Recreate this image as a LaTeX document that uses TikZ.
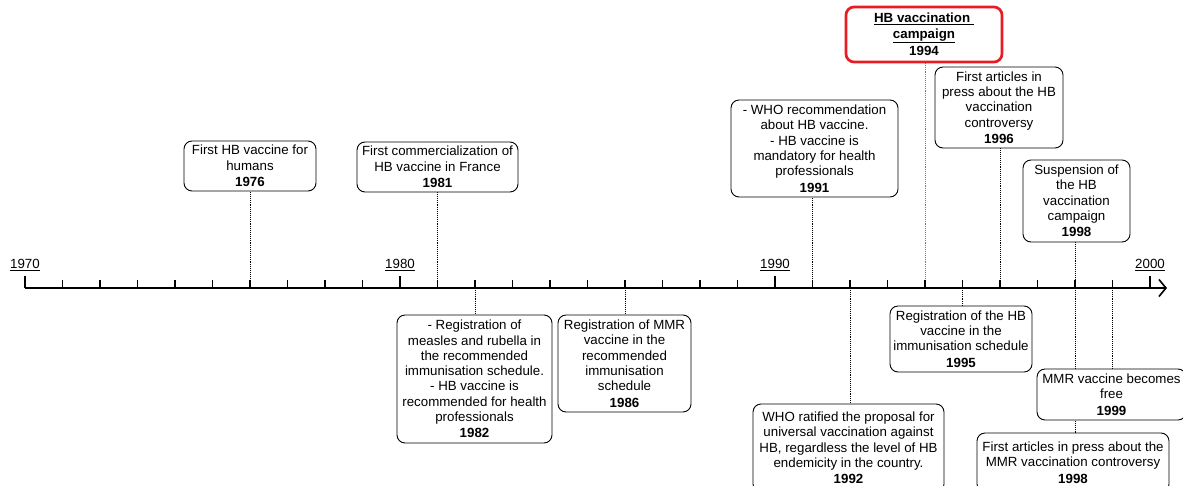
\documentclass[tikz,border=0pt]{standalone}
\usepackage{fontspec}
\setmainfont{Liberation Sans}
\usetikzlibrary{arrows.meta,backgrounds}

\definecolor{campred}{RGB}{232,28,36}
\tikzset{
  event/.style={draw, rounded corners=8pt, fill=white, align=center, inner sep=2pt,
    line width=0.9pt, font=\fontsize{13.3}{15.3}\selectfont},
  keyevent/.style={event, draw=campred, line width=2.7pt},
  eventline/.style={densely dotted, line width=0.9pt},
  keyline/.style={eventline, draw=campred!80},
  yearlabel/.style={inner sep=0pt, font=\fontsize{13.3}{15.3}\selectfont},
  axisline/.style={line width=1.2pt},
}

\begin{document}
\begin{tikzpicture}[x=1pt,y=-1pt]
\useasboundingbox (0,0) rectangle (1183,485);

\foreach \yr in {1970,...,2000}
  \coordinate (t\yr) at ({25+37.5*(\yr-1970)},288);

\draw[axisline, -{Straight Barb[length=7pt,width=17pt,line width=1.6pt]}] (t1970) -- ([xshift=17pt]t2000);
\foreach \yr in {1970,...,2000}
  \draw[axisline] (t\yr) -- ++(0,-8);
\foreach \yr in {1970,1980,1990,2000} {
  \draw[axisline] (t\yr) -- ++(0,-12);
  \node[yearlabel] (l\yr) at ([yshift=23pt]t\yr) {\underline{\yr}};
}

\node[event, minimum width=132pt, minimum height=50pt] (b1976) at (250,166)
  {First HB vaccine for\\humans\\[1pt]\textbf{1976}};
\node[event, minimum width=161pt, minimum height=50pt] (b1981) at (437.5,167)
  {First commercialization of\\HB vaccine in France\\[1pt]\textbf{1981}};
\node[event, minimum width=167pt, minimum height=97pt] (b1991) at (814.5,148.5)
  {- WHO recommendation\\about HB vaccine.\\- HB vaccine is\\mandatory for health\\professionals\\[1pt]\textbf{1991}};
\node[keyevent, minimum width=156pt, minimum height=55pt] (b1994) at (924,34.5)
  {\textbf{\underline{HB vaccination\ }}\\\textbf{\underline{campaign}}\\[2pt]\textbf{1994}};
\node[event, minimum width=128pt, minimum height=81pt] (b1996) at (999,107.5)
  {First articles in\\press about the HB\\vaccination\\controversy\\[1pt]\textbf{1996}};
\node[event, minimum width=107pt, minimum height=82pt] (b1998a) at (1076.5,201)
  {Suspension of\\the HB\\vaccination\\campaign\\[1pt]\textbf{1998}};

\node[event, minimum width=155pt, minimum height=128pt] (b1982) at (474.5,379)
  {- Registration of\\measles and rubella in\\the recommended\\immunisation schedule.\\- HB vaccine is\\recommended for health\\professionals\\[1pt]\textbf{1982}};
\node[event, minimum width=133pt, minimum height=97pt] (b1986) at (624.5,363.5)
  {Registration of MMR\\vaccine in the\\recommended\\immunisation\\schedule\\[1pt]\textbf{1986}};
\node[event, minimum width=191pt, minimum height=88pt] (b1992) at (848.5,448)
  {WHO ratified the proposal for\\universal vaccination against\\HB, regardless the level of HB\\endemicity in the country.\\[1pt]\textbf{1992}};
\node[event, minimum width=142pt, minimum height=66pt] (b1995) at (961,339)
  {Registration of the HB\\vaccine in the\\immunisation schedule\\[1pt]\textbf{1995}};
\node[event, minimum width=149pt, minimum height=51pt] (b1999) at (1111.5,394.5)
  {MMR vaccine becomes\\free\\[1pt]\textbf{1999}};
\node[event, minimum width=192pt, minimum height=59pt] (b1998b) at (1073,462.5)
  {First articles in press about the\\MMR vaccination controversy\\[1pt]\textbf{1998}};

\begin{scope}[on background layer]
\draw[eventline] (t1976) -- (t1976 |- b1976.south);
\draw[eventline] (t1981) -- (t1981 |- b1981.south);
\draw[eventline] (t1991) -- (t1991 |- b1991.south);
\draw[keyline] (t1994) -- (t1994 |- b1994.south);
\draw[eventline] (t1996) -- (t1996 |- b1996.south);
\draw[eventline] (t1998 |- b1998a.south) -- (t1998 |- b1998b.north);
\draw[eventline] (t1982) -- (t1982 |- b1982.north);
\draw[eventline] (t1986) -- (t1986 |- b1986.north);
\draw[eventline] (t1992) -- (t1992 |- b1992.north);
\draw[eventline] (t1995) -- (t1995 |- b1995.north);
\draw[eventline] (t1999) -- (t1999 |- b1999.north);
\end{scope}
\end{tikzpicture}
\end{document}
